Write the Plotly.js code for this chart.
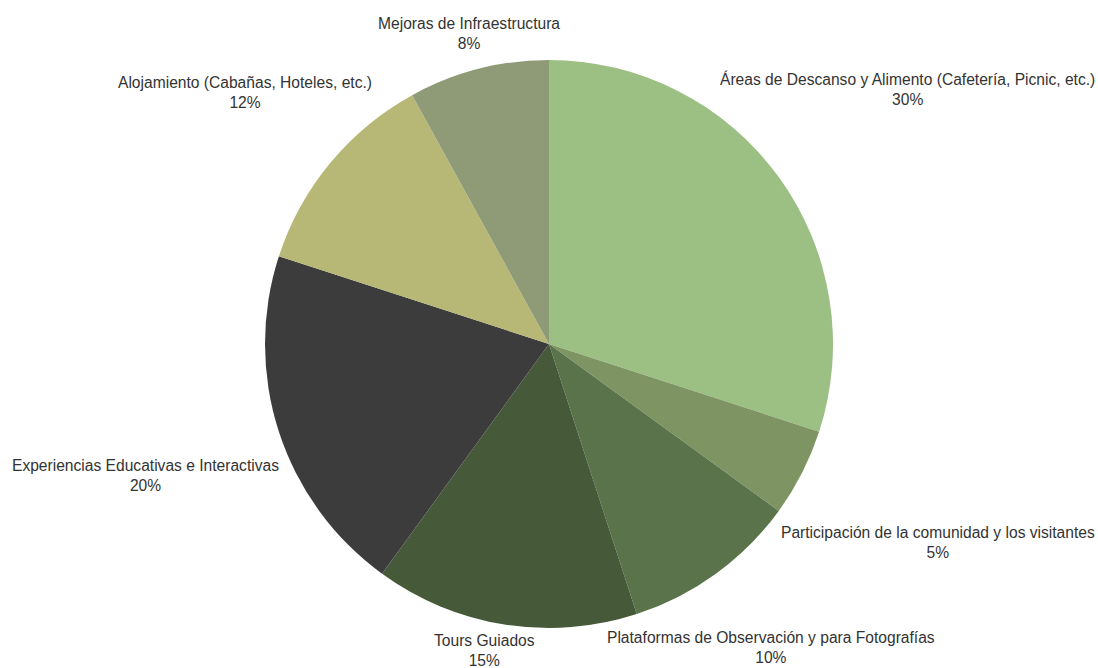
<!DOCTYPE html>
<html>
<head>
<meta charset="utf-8">
<script src="https://cdn.plot.ly/plotly-3.0.1.min.js"></script>
<style>html,body{margin:0;padding:0;background:#fff;}#chart{width:1098px;height:668px;}</style>
</head>
<body>
<div id="chart"></div>
<script>
const categories = [
  "Áreas de Descanso y Alimento (Cafetería, Picnic, etc.)",
  "Participación de la comunidad y los visitantes",
  "Plataformas de Observación y para Fotografías",
  "Tours Guiados",
  "Experiencias Educativas e Interactivas",
  "Alojamiento (Cabañas, Hoteles, etc.)",
  "Mejoras de Infraestructura"
];
const values = [30, 5, 10, 15, 20, 12, 8];
const colors = ["#9cbf84", "#7e9563", "#5a734a", "#465a3a", "#3c3c3c", "#b8b876", "#8f9a76"];

// label placement (pixel centres of each outside label block)
const labelPos = [[907, 89], [938, 542], [771, 647], [484, 650], [145, 476], [245, 93], [469, 33]];

const W = 1098, H = 668;

const trace = {
  type: "pie",
  labels: categories,
  values: values,
  sort: false,
  direction: "clockwise",
  rotation: 0,
  domain: {x: [0, 1], y: [40 / H, 1 - 60 / H]},
  marker: {colors: colors, line: {width: 0}},
  textinfo: "none",
  hoverinfo: "label+percent",
  showlegend: false
};

const annotations = categories.map((c, i) => ({
  xref: "paper", yref: "paper",
  x: labelPos[i][0] / W,
  y: 1 - labelPos[i][1] / H,
  xanchor: "center", yanchor: "middle",
  align: "center",
  showarrow: false,
  text: c + "<br>" + values[i] + "%",
  font: {family: "Liberation Sans, Arial, sans-serif", size: 15.6, color: "#333333"}
}));

const layout = {
  width: W,
  height: H,
  margin: {l: 0, r: 0, t: 0, b: 0},
  paper_bgcolor: "#ffffff",
  plot_bgcolor: "#ffffff",
  showlegend: false,
  annotations: annotations
};

Plotly.newPlot("chart", [trace], layout, {displayModeBar: false, staticPlot: true});
</script>
</body>
</html>
